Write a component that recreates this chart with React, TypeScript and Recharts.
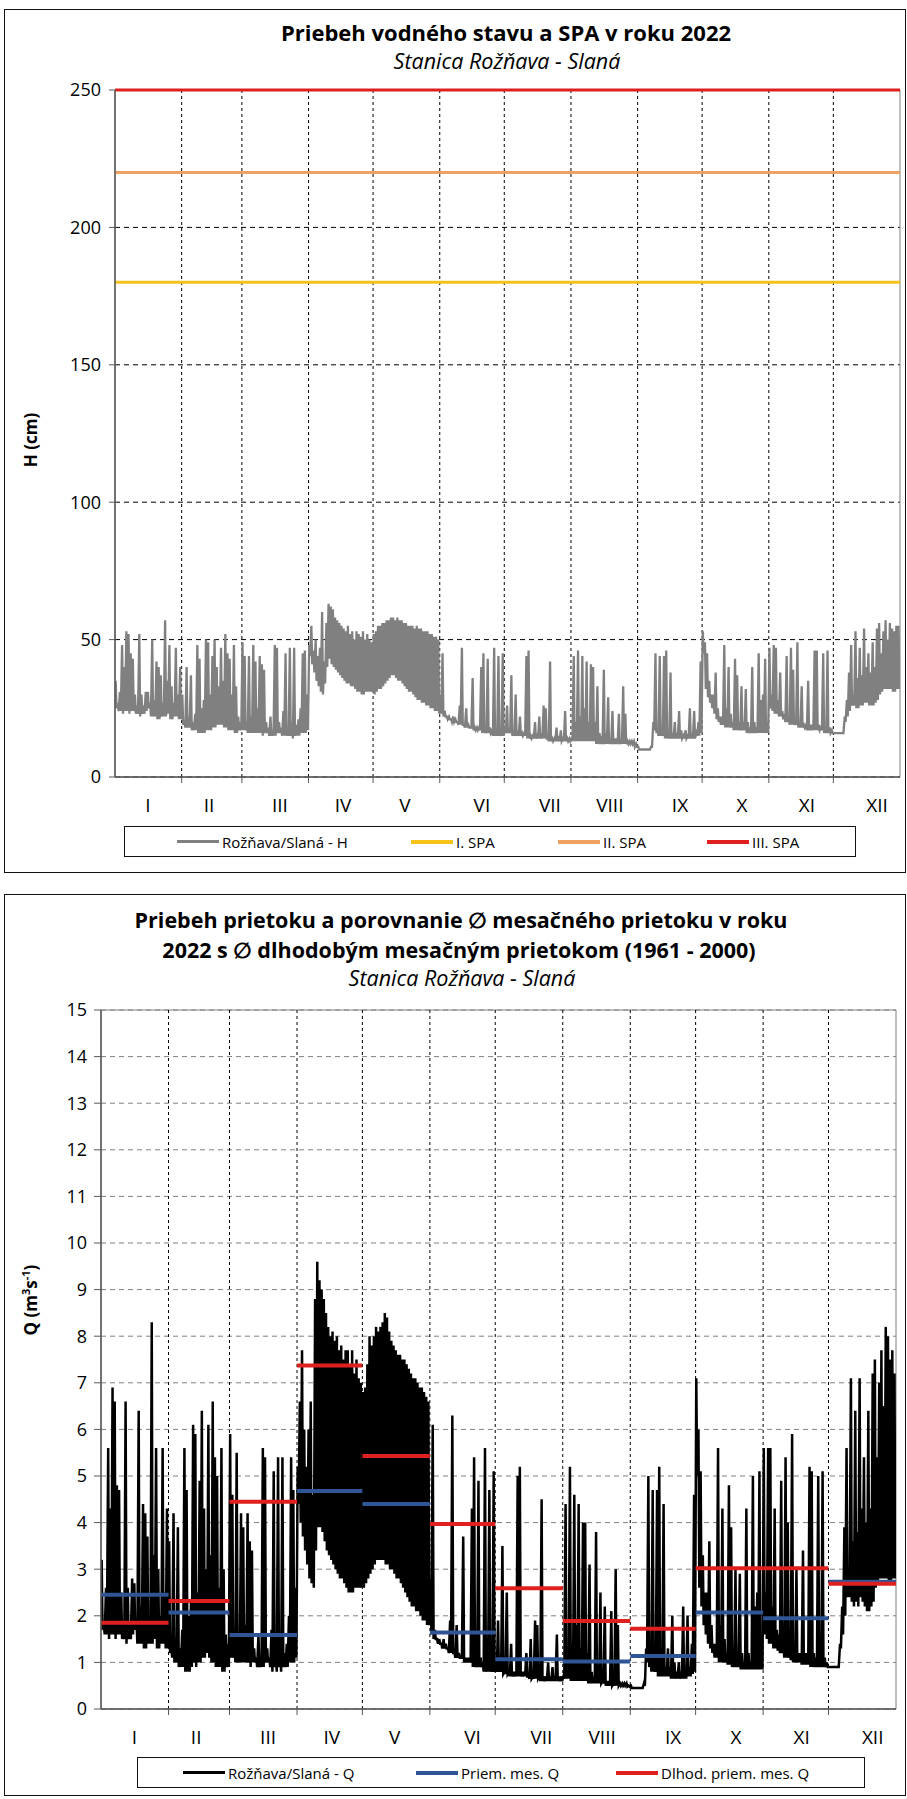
import React from 'react'
import { LineChart, Line, XAxis, YAxis, CartesianGrid, ReferenceLine, ReferenceArea } from 'recharts'

const FONT = '"Open Sans", "DejaVu Sans", sans-serif'

const months = ['I', 'II', 'III', 'IV', 'V', 'VI', 'VII', 'VIII', 'IX', 'X', 'XI', 'XII']
// day of year at which each month starts (2022), last entry = end of year
const monthStarts = [0, 31, 59, 90, 120, 151, 181, 212, 243, 273, 304, 334, 365]
// where the month names sit on the day axis
const monthLabelDays = [15.3, 43.7, 76.7, 106, 134.8, 170.6, 202.2, 230.1, 262.7, 291.5, 321.7, 354.3]

// water level H (cm): daily low and daily peak, one sub-array per month
const hLow = [
  [25, 24, 24, 23, 24, 24, 23, 24, 24, 23, 23, 22, 23, 23, 24, 25, 22, 22, 22, 21, 21, 22, 22, 22, 23, 21, 21, 22, 22, 21, 21],
  [19, 18, 18, 18, 17, 17, 17, 16, 16, 16, 16, 17, 17, 17, 18, 18, 19, 19, 19, 18, 18, 17, 17, 17, 16, 16, 17, 17],
  [17, 17, 16, 16, 16, 16, 16, 16, 16, 15, 16, 16, 15, 15, 15, 15, 16, 16, 15, 15, 15, 15, 15, 14, 15, 15, 15, 16, 16, 16, 17],
  [44, 41, 38, 35, 33, 31, 30, 34, 40, 43, 41, 40, 39, 38, 37, 36, 35, 34, 34, 33, 33, 32, 31, 31, 30, 30, 31, 31, 31, 31],
  [30, 31, 32, 32, 33, 34, 35, 36, 37, 37, 36, 35, 35, 34, 33, 32, 31, 31, 30, 29, 28, 28, 27, 27, 26, 26, 25, 25, 24, 24, 23],
  [23, 22, 22, 21, 21, 20, 20, 20, 19, 19, 19, 18, 18, 18, 18, 17, 17, 17, 17, 16, 16, 16, 16, 16, 15, 15, 15, 15, 15, 15],
  [16, 16, 16, 15, 15, 15, 15, 15, 15, 15, 14, 14, 14, 14, 14, 14, 14, 14, 14, 14, 13, 13, 13, 13, 13, 13, 13, 13, 13, 13, 13],
  [13, 13, 13, 13, 13, 13, 13, 13, 13, 13, 13, 12, 12, 12, 12, 12, 12, 12, 12, 12, 12, 12, 12, 12, 12, 12, 12, 12, 12, 11, 11],
  [10, 10, 10, 10, 10, 10, 11, 17, 16, 15, 15, 15, 14, 14, 14, 14, 14, 14, 14, 14, 14, 14, 14, 14, 14, 14, 14, 15, 15, 16],
  [45, 32, 29, 27, 25, 23, 21, 20, 19, 19, 18, 18, 18, 18, 17, 17, 17, 17, 17, 17, 16, 16, 16, 16, 16, 16, 16, 16, 16, 16, 16],
  [25, 24, 23, 23, 22, 22, 21, 20, 20, 19, 19, 19, 19, 18, 18, 18, 18, 17, 17, 17, 17, 17, 17, 17, 17, 16, 16, 16, 16, 16],
  [16, 16, 16, 16, 16, 20, 22, 24, 26, 26, 25, 25, 26, 26, 27, 27, 26, 26, 26, 27, 28, 30, 31, 32, 32, 32, 32, 31, 31, 32, 32],
]
const hHigh = [
  [35, 26, 31, 48, 40, 53, 52, 45, 43, 30, 26, 52, 30, 26, 31, 31, 27, 50, 28, 42, 40, 37, 27, 57, 35, 48, 33, 27, 47, 30, 40],
  [30, 20, 40, 22, 37, 20, 23, 48, 43, 25, 28, 50, 49, 30, 44, 50, 40, 33, 47, 35, 52, 45, 43, 30, 48, 33, 22, 20],
  [49, 44, 20, 44, 22, 48, 42, 25, 44, 41, 39, 20, 18, 22, 17, 48, 47, 20, 18, 24, 45, 18, 47, 20, 47, 19, 21, 25, 45, 46, 30],
  [48, 55, 46, 50, 44, 47, 60, 42, 56, 63, 62, 61, 58, 57, 56, 55, 54, 53, 55, 52, 53, 50, 53, 52, 51, 53, 50, 52, 50, 49],
  [52, 53, 55, 55, 56, 56, 57, 57, 58, 58, 57, 58, 57, 57, 56, 56, 55, 55, 55, 54, 55, 54, 54, 53, 53, 53, 52, 52, 51, 51, 50],
  [30, 45, 24, 22, 22, 21, 22, 21, 20, 26, 47, 19, 25, 19, 18, 36, 18, 18, 18, 40, 45, 17, 43, 18, 17, 47, 17, 44, 16, 45],
  [17, 26, 17, 37, 16, 30, 16, 22, 16, 16, 44, 46, 15, 15, 20, 15, 22, 15, 26, 25, 14, 42, 14, 14, 18, 14, 17, 14, 24, 14, 14],
  [14, 44, 20, 46, 22, 44, 25, 42, 20, 41, 40, 20, 33, 16, 15, 39, 16, 29, 14, 24, 14, 14, 23, 13, 33, 23, 13, 13, 13, 13, 12],
  [11, 10, 10, 10, 10, 10, 11, 20, 45, 17, 44, 16, 44, 46, 16, 38, 16, 20, 16, 24, 17, 15, 17, 15, 25, 16, 24, 16, 20, 42],
  [53, 49, 45, 35, 30, 30, 38, 25, 22, 22, 48, 25, 40, 23, 20, 43, 37, 20, 33, 20, 32, 20, 18, 40, 20, 18, 45, 28, 30, 43, 20],
  [47, 30, 48, 47, 28, 38, 24, 23, 44, 22, 47, 39, 20, 49, 20, 33, 19, 19, 35, 19, 19, 46, 46, 19, 18, 45, 18, 46, 18, 17],
  [16, 16, 16, 16, 16, 22, 28, 38, 48, 30, 53, 36, 47, 37, 54, 40, 45, 38, 49, 40, 54, 56, 45, 53, 57, 50, 56, 54, 53, 55, 55],
]

// discharge Q (m3/s): daily low and daily peak
const qLow = [
  [1.7, 1.6, 1.6, 1.5, 1.6, 1.6, 1.5, 1.6, 1.6, 1.5, 1.5, 1.4, 1.5, 1.5, 1.6, 1.7, 1.4, 1.4, 1.4, 1.3, 1.3, 1.4, 1.4, 1.4, 1.5, 1.3, 1.3, 1.4, 1.4, 1.3, 1.3],
  [1.2, 1.1, 1.0, 1.0, 0.9, 0.9, 0.9, 0.8, 0.8, 0.8, 0.9, 1.0, 0.9, 1.0, 1.0, 1.1, 1.1, 1.2, 1.1, 1.0, 1.0, 0.9, 0.9, 0.9, 0.8, 0.8, 0.9, 0.9],
  [1.1, 1.1, 1.0, 1.0, 1.0, 1.0, 1.0, 1.0, 1.0, 0.9, 1.0, 1.0, 0.9, 0.9, 0.9, 0.9, 1.0, 1.0, 0.9, 0.8, 0.9, 0.8, 0.9, 0.8, 0.9, 0.9, 0.9, 1.0, 1.0, 1.0, 1.1],
  [4.4, 4.0, 3.7, 3.4, 3.1, 2.8, 2.7, 2.6, 3.4, 3.9, 3.9, 3.8, 3.6, 3.4, 3.3, 3.2, 3.1, 3.0, 2.9, 2.8, 2.8, 2.7, 2.6, 2.5, 2.5, 2.5, 2.6, 2.6, 2.6, 2.6],
  [2.6, 2.7, 2.8, 2.9, 3.0, 3.1, 3.2, 3.2, 3.2, 3.2, 3.1, 3.1, 3.0, 3.0, 2.9, 2.8, 2.8, 2.7, 2.6, 2.5, 2.4, 2.3, 2.2, 2.2, 2.1, 2.1, 2.0, 1.9, 1.9, 1.8, 1.8],
  [1.6, 1.5, 1.5, 1.4, 1.4, 1.3, 1.3, 1.3, 1.2, 1.2, 1.2, 1.1, 1.1, 1.1, 1.1, 1.0, 1.0, 1.0, 1.0, 0.9, 0.9, 0.9, 0.9, 0.9, 0.8, 0.8, 0.8, 0.8, 0.8, 0.8],
  [0.8, 0.8, 0.8, 0.75, 0.75, 0.75, 0.7, 0.7, 0.7, 0.7, 0.7, 0.7, 0.7, 0.7, 0.7, 0.65, 0.65, 0.65, 0.65, 0.65, 0.6, 0.6, 0.6, 0.6, 0.6, 0.6, 0.6, 0.6, 0.6, 0.6, 0.6],
  [0.65, 0.65, 0.65, 0.6, 0.6, 0.6, 0.6, 0.6, 0.6, 0.6, 0.6, 0.55, 0.55, 0.55, 0.55, 0.55, 0.55, 0.55, 0.55, 0.5, 0.5, 0.5, 0.5, 0.5, 0.5, 0.5, 0.5, 0.5, 0.5, 0.48, 0.48],
  [0.45, 0.45, 0.45, 0.45, 0.45, 0.45, 0.5, 1.0, 0.9, 0.8, 0.8, 0.8, 0.7, 0.7, 0.7, 0.7, 0.7, 0.7, 0.65, 0.65, 0.65, 0.65, 0.65, 0.65, 0.65, 0.65, 0.7, 0.7, 0.75, 0.8],
  [5.0, 2.6, 2.2, 1.8, 1.6, 1.4, 1.3, 1.2, 1.1, 1.1, 1.0, 1.0, 1.0, 1.0, 0.95, 0.95, 0.9, 0.9, 0.9, 0.9, 0.85, 0.85, 0.85, 0.85, 0.85, 0.85, 0.85, 0.85, 0.85, 0.85, 0.85],
  [1.6, 1.5, 1.4, 1.4, 1.3, 1.3, 1.25, 1.2, 1.2, 1.1, 1.1, 1.1, 1.05, 1.0, 1.0, 1.0, 1.0, 0.95, 0.95, 0.95, 0.95, 0.9, 0.9, 0.9, 0.9, 0.9, 0.9, 0.9, 0.9, 0.9],
  [0.9, 0.9, 0.9, 0.9, 0.9, 1.3, 1.6, 2.0, 2.4, 2.4, 2.3, 2.2, 2.3, 2.2, 2.4, 2.3, 2.2, 2.1, 2.1, 2.2, 2.3, 2.6, 2.7, 2.8, 2.8, 2.8, 2.8, 2.7, 2.7, 2.8, 2.8],
]
const qHigh = [
  [3.2, 1.8, 2.6, 5.6, 4.3, 6.9, 6.6, 4.8, 4.7, 2.5, 1.8, 6.6, 2.6, 1.8, 2.8, 2.7, 1.9, 6.4, 2.2, 4.4, 4.2, 3.7, 1.9, 8.3, 3.3, 5.6, 3.0, 2.0, 5.6, 2.5, 4.3],
  [3.6, 1.3, 4.2, 1.5, 3.9, 1.3, 1.7, 5.6, 4.7, 2.0, 2.3, 6.1, 5.9, 2.5, 4.9, 6.4, 4.3, 3.0, 6.1, 3.3, 6.6, 5.4, 5.0, 2.6, 5.6, 3.0, 1.6, 1.4],
  [5.9, 4.6, 1.3, 5.5, 1.6, 4.2, 3.9, 1.8, 4.2, 3.6, 3.4, 1.3, 1.1, 1.6, 1.0, 5.6, 5.4, 1.3, 1.1, 1.7, 5.1, 1.1, 5.4, 1.3, 5.4, 1.2, 1.4, 2.0, 5.4, 4.7, 2.6],
  [5.2, 6.6, 7.7, 6.0, 5.2, 6.0, 6.6, 4.6, 8.8, 9.6, 9.2, 9.0, 8.8, 8.5, 8.2, 8.0, 8.1, 7.9, 8.0, 7.7, 7.8, 7.5, 7.7, 7.7, 7.4, 7.7, 7.2, 7.5, 7.1, 7.0],
  [6.8, 6.9, 7.4, 8.0, 7.8, 8.0, 8.2, 8.1, 8.2, 8.3, 8.5, 8.4, 8.1, 7.9, 7.8, 7.7, 7.6, 7.6, 7.5, 7.5, 7.4, 7.3, 7.2, 7.1, 7.1, 7.0, 6.9, 6.9, 6.8, 6.7, 6.6],
  [2.8, 6.1, 1.7, 1.5, 1.5, 1.4, 1.5, 1.4, 1.3, 1.9, 6.3, 1.2, 1.8, 1.2, 1.1, 3.7, 1.1, 1.1, 1.1, 4.3, 5.4, 1.0, 4.9, 1.1, 1.0, 5.6, 1.0, 4.7, 0.9, 5.1],
  [0.9, 1.9, 0.9, 3.5, 0.8, 2.5, 0.8, 1.4, 0.8, 0.8, 5.0, 5.2, 0.8, 0.8, 1.2, 0.7, 1.5, 0.7, 1.9, 1.8, 0.7, 4.5, 0.7, 0.7, 1.0, 0.7, 0.9, 0.7, 1.6, 0.7, 0.7],
  [0.7, 4.4, 1.2, 5.2, 1.4, 4.6, 1.8, 4.4, 1.3, 4.0, 4.0, 1.2, 3.1, 0.8, 0.7, 3.8, 0.8, 2.5, 0.6, 2.2, 0.6, 0.6, 2.1, 0.55, 3.0, 1.8, 0.55, 0.55, 0.55, 0.55, 0.5],
  [0.5, 0.45, 0.45, 0.45, 0.45, 0.45, 0.55, 1.3, 5.0, 1.1, 4.7, 0.9, 4.7, 5.2, 0.9, 4.4, 0.9, 1.3, 0.9, 2.0, 1.0, 0.8, 1.0, 0.8, 2.2, 0.9, 2.0, 0.9, 1.4, 4.6],
  [7.1, 6.0, 5.1, 3.3, 2.5, 2.5, 3.6, 1.8, 1.4, 1.4, 5.6, 1.8, 4.3, 1.5, 1.2, 4.8, 3.9, 1.2, 3.0, 1.2, 2.9, 1.2, 1.0, 4.3, 1.2, 1.0, 5.0, 2.2, 2.5, 5.1, 1.2],
  [5.6, 2.5, 5.6, 5.6, 2.2, 4.3, 1.7, 1.6, 4.9, 1.5, 5.4, 4.0, 1.3, 5.9, 1.3, 3.0, 1.2, 1.2, 3.4, 1.2, 1.2, 5.2, 5.1, 1.2, 1.1, 5.0, 1.1, 5.1, 1.1, 1.0],
  [0.9, 0.9, 0.9, 0.9, 0.9, 1.4, 2.2, 3.9, 5.6, 3.0, 7.1, 3.6, 6.4, 3.8, 7.1, 4.3, 5.4, 4.0, 6.4, 4.3, 7.2, 7.5, 5.4, 7.0, 7.7, 6.5, 8.2, 8.0, 7.5, 7.7, 7.2],
]

// monthly mean Q in 2022 and long-term monthly mean Q (1961 - 2000)
const qMonthMean = [2.45, 2.07, 1.59, 4.68, 4.4, 1.64, 1.07, 1.02, 1.14, 2.07, 1.95, 2.73]
const qLongTermMean = [1.85, 2.32, 4.45, 7.37, 5.43, 3.97, 2.59, 1.89, 1.72, 3.02, 3.02, 2.69]

// flood warning levels (SPA) in cm
const spaLevels = [180, 220, 250]
const spaNames = ['I. SPA', 'II. SPA', 'III. SPA']
const spaColors = ['#F7C21A', '#F0A060', '#E0201E']

const hTicks = [0, 50, 100, 150, 200, 250]
const qTicks = [0, 1, 2, 3, 4, 5, 6, 7, 8, 9, 10, 11, 12, 13, 14, 15]

const xTicks = [...monthStarts, ...monthLabelDays].sort((a, b) => a - b)

// each day: peak first, then the low, spread over the month
function buildSeries(low: number[][], high: number[][]) {
  const pts: { x: number; v: number }[] = []
  low.forEach((lows, m) => {
    const start = monthStarts[m]
    const step = (monthStarts[m + 1] - start) / lows.length
    lows.forEach((lo, i) => {
      const d = start + i * step
      pts.push({ x: d + step * 0.3, v: high[m][i] })
      pts.push({ x: d + step * 0.7, v: lo })
    })
  })
  return pts
}

const hSeries = buildSeries(hLow, hHigh)
const qSeries = buildSeries(qLow, qHigh)

function MonthTick(props: any) {
  const { x, y, payload } = props
  const m = monthLabelDays.indexOf(payload.value)
  if (m >= 0) {
    return (
      <text x={x} y={y + 28} textAnchor="middle" dominantBaseline="central" fontSize={19} fill="#000">
        {months[m]}
      </text>
    )
  }
  if (payload.value <= 0 || payload.value >= 365) return <g />
  return <line x1={x} x2={x} y1={y} y2={y + 6} stroke="#595959" />
}

function Centered({ x, y, style, children }: { x: number; y: number; style?: React.CSSProperties; children: React.ReactNode }) {
  return (
    <div
      style={{
        position: 'absolute',
        left: x,
        top: y,
        transform: 'translate(-50%, -50%)',
        whiteSpace: 'nowrap',
        lineHeight: 1,
        ...style,
      }}
    >
      {children}
    </div>
  )
}

function LegendItem({ left, color, width, label }: { left: number; color: string; width: number; label: string }) {
  return (
    <div style={{ position: 'absolute', left, top: 0, height: '100%', display: 'flex', alignItems: 'center' }}>
      <div style={{ width: 42, height: width, background: color, marginRight: 3 }} />
      <span style={{ fontSize: 15 }}>{label}</span>
    </div>
  )
}

const boxStyle = (left: number, top: number, width: number, height: number): React.CSSProperties => ({
  position: 'absolute',
  left,
  top,
  width,
  height,
  border: '1.5px solid #111',
  boxSizing: 'border-box',
})

const axisStroke = { stroke: '#595959', strokeWidth: 1.5 }

export default function App() {
  return (
    <div style={{ position: 'relative', width: 907, height: 1799, background: '#fff', fontFamily: FONT, color: '#000' }}>
      <style>{'body{margin:0}'}</style>

      {/* ---------- water level ---------- */}
      <div style={boxStyle(4, 9, 902, 864)} />
      <Centered x={506} y={32} style={{ fontSize: 22, fontWeight: 700 }}>
        Priebeh vodného stavu a SPA v roku 2022
      </Centered>
      <Centered x={507} y={61} style={{ fontSize: 21.5, fontStyle: 'italic' }}>
        Stanica Rožňava - Slaná
      </Centered>
      <Centered x={30} y={440} style={{ fontSize: 17, fontWeight: 700, transform: 'translate(-50%, -50%) rotate(-90deg)' }}>
        H (cm)
      </Centered>

      <div style={{ position: 'absolute', left: 0, top: 0 }}>
        <LineChart width={907} height={872} data={hSeries} margin={{ top: 90, right: 7, bottom: 55, left: 0 }}>
          <CartesianGrid vertical={false} stroke="#000" strokeDasharray="5 4" />
          <XAxis
            dataKey="x"
            type="number"
            domain={[0, 365]}
            ticks={xTicks}
            interval={0}
            tick={<MonthTick />}
            tickLine={false}
            tickSize={0}
            tickMargin={0}
            axisLine={axisStroke}
            height={40}
            allowDataOverflow
          />
          <YAxis
            domain={[0, 250]}
            ticks={hTicks}
            interval={0}
            width={115}
            tickSize={6}
            tickMargin={8}
            tick={{ fontSize: 18, fill: '#000' }}
            tickLine={{ stroke: '#595959' }}
            axisLine={axisStroke}
          />
          {monthStarts.slice(1, 12).map((d) => (
            <ReferenceLine key={d} x={d} stroke="#000" strokeDasharray="3 3" />
          ))}
          <ReferenceArea x1={0} x2={365} y1={0} y2={250} fill="none" stroke="#808080" />
          <Line dataKey="v" stroke="#808080" strokeWidth={2.3} dot={false} isAnimationActive={false} />
          {spaLevels.map((lvl, i) => (
            <ReferenceLine key={lvl} y={lvl} stroke={spaColors[i]} strokeWidth={3} zIndex={450} />
          ))}
        </LineChart>
      </div>

      <div style={{ position: 'absolute', left: 124, top: 826, width: 732, height: 31, border: '1.5px solid #111', boxSizing: 'border-box', background: '#fff' }}>
        <LegendItem left={52} color="#808080" width={2.5} label="Rožňava/Slaná - H" />
        {spaNames.map((n, i) => (
          <LegendItem key={n} left={[286, 433, 582][i]} color={spaColors[i]} width={4} label={n} />
        ))}
      </div>

      {/* ---------- discharge ---------- */}
      <div style={boxStyle(4, 894, 902, 902)} />
      <Centered x={461} y={920} style={{ fontSize: 21.5, fontWeight: 700 }}>
        Priebeh prietoku a porovnanie ∅ mesačného prietoku v roku
      </Centered>
      <Centered x={459} y={950} style={{ fontSize: 21.5, fontWeight: 700 }}>
        2022 s ∅ dlhodobým mesačným prietokom (1961 - 2000)
      </Centered>
      <Centered x={462} y={978} style={{ fontSize: 21.5, fontStyle: 'italic' }}>
        Stanica Rožňava - Slaná
      </Centered>
      <Centered x={29} y={1300} style={{ fontSize: 17, fontWeight: 700, transform: 'translate(-50%, -50%) rotate(-90deg)' }}>
        <span>
          Q (m<sup style={{ fontSize: 11 }}>3</sup>s<sup style={{ fontSize: 11 }}>-1</sup>)
        </span>
      </Centered>

      <div style={{ position: 'absolute', left: 0, top: 895 }}>
        <LineChart width={907} height={900} data={qSeries} margin={{ top: 115, right: 11, bottom: 46, left: 0 }}>
          <CartesianGrid vertical={false} stroke="#808080" strokeDasharray="5 4" />
          <XAxis
            dataKey="x"
            type="number"
            domain={[0, 365]}
            ticks={xTicks}
            interval={0}
            tick={<MonthTick />}
            tickLine={false}
            tickSize={0}
            tickMargin={0}
            axisLine={axisStroke}
            height={40}
            allowDataOverflow
          />
          <YAxis
            domain={[0, 15]}
            ticks={qTicks}
            interval={0}
            width={101}
            tickSize={7}
            tickMargin={7}
            tick={{ fontSize: 18, fill: '#000' }}
            tickLine={{ stroke: '#595959' }}
            axisLine={axisStroke}
          />
          {monthStarts.slice(1, 12).map((d) => (
            <ReferenceLine key={d} x={d} stroke="#000" strokeDasharray="3 3" />
          ))}
          <ReferenceArea x1={0} x2={365} y1={0} y2={15} fill="none" stroke="#808080" />
          <Line dataKey="v" stroke="#000" strokeWidth={2.5} dot={false} isAnimationActive={false} />
          {qMonthMean.map((v, m) => (
            <ReferenceLine
              key={'mean' + m}
              segment={[
                { x: monthStarts[m], y: v },
                { x: monthStarts[m + 1], y: v },
              ]}
              stroke="#2F5597"
              strokeWidth={4}
              zIndex={450}
            />
          ))}
          {qLongTermMean.map((v, m) => (
            <ReferenceLine
              key={'long' + m}
              segment={[
                { x: monthStarts[m], y: v },
                { x: monthStarts[m + 1], y: v },
              ]}
              stroke="#E0201E"
              strokeWidth={4}
              zIndex={460}
            />
          ))}
        </LineChart>
      </div>

      <div style={{ position: 'absolute', left: 137, top: 1757, width: 728, height: 31, border: '1.5px solid #111', boxSizing: 'border-box', background: '#fff' }}>
        <LegendItem left={45} color="#000" width={3} label="Rožňava/Slaná - Q" />
        <LegendItem left={278} color="#2F5597" width={4} label="Priem. mes. Q" />
        <LegendItem left={478} color="#E0201E" width={4} label="Dlhod. priem. mes. Q" />
      </div>
    </div>
  )
}
